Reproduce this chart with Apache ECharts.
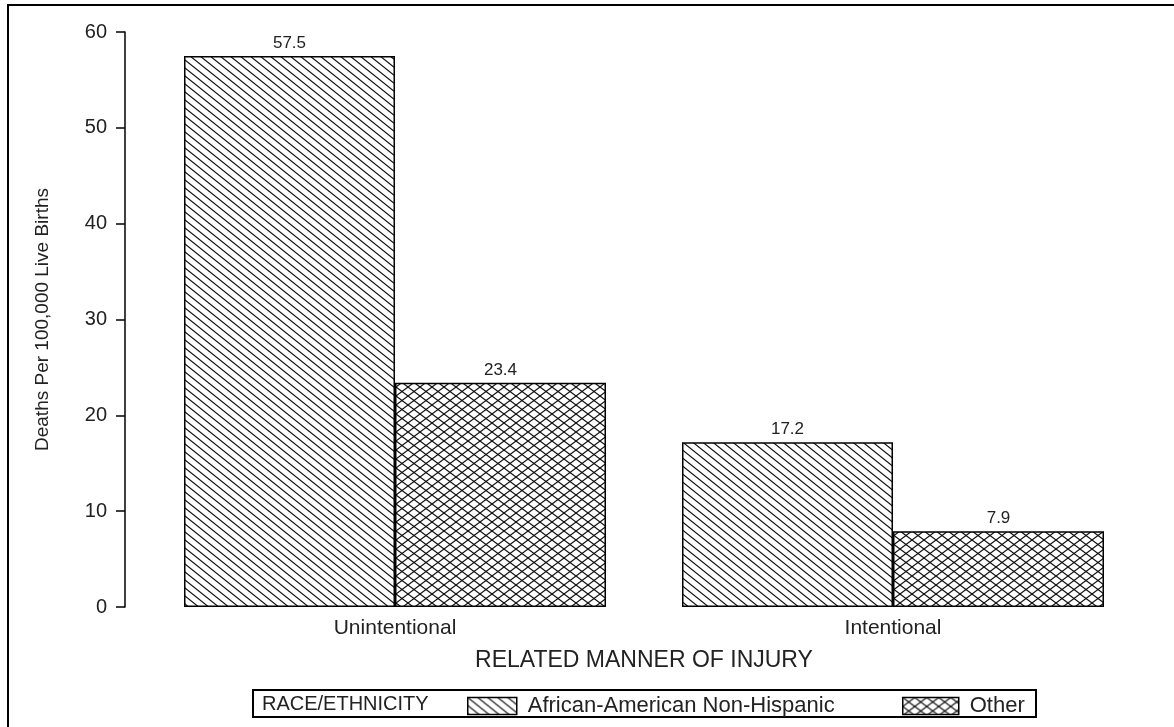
<!DOCTYPE html>
<html>
<head>
<meta charset="utf-8">
<script src="https://cdn.jsdelivr.net/npm/echarts@6/dist/echarts.min.js"></script>
<style>
    html, body { margin: 0; padding: 0; background: #fff; }
    #main { width: 1174px; height: 727px; }
</style>
</head>
<body>
<div id="main"></div>
<script>
    // data
    var categories = ['Unintentional', 'Intentional'];
    var seriesNames = ['African-American Non-Hispanic', 'Other'];
    var africanAmerican = [57.5, 17.2];
    var other = [23.4, 7.9];
    var yTicks = [0, 10, 20, 30, 40, 50, 60];

    var FONT = '"Liberation Sans", Arial, sans-serif';
    var TXT = '#222';

    // hatch tiles drawn on small canvases
    function hatch(w, h, period, slope, cross) {
        var c = document.createElement('canvas');
        c.width = w; c.height = h;
        var ctx = c.getContext('2d');
        ctx.fillStyle = '#fff';
        ctx.fillRect(0, 0, w, h);
        ctx.strokeStyle = '#111';
        ctx.lineWidth = 1.2;
        for (var k = -4; k <= 4; k++) {
            var x0 = k * period;
            // "\" lines
            ctx.beginPath();
            ctx.moveTo(x0 - w, -w * slope);
            ctx.lineTo(x0 + 2 * w, 2 * w * slope);
            ctx.stroke();
            if (cross) {
                // "/" lines
                ctx.beginPath();
                ctx.moveTo(x0 - w, h + w * slope);
                ctx.lineTo(x0 + 2 * w, h - 2 * w * slope);
                ctx.stroke();
            }
        }
        return c;
    }
    var diagTile = hatch(20, 16, 10, 0.8, false);
    var crossTile = hatch(12, 9, 12, 0.75, true);

    var myChart = echarts.init(document.getElementById('main'));

    function barSeries(name, data, tile) {
        return {
            name: name,
            type: 'bar',
            data: data,
            barWidth: 211,
            barGap: '0%',
            itemStyle: {
                color: { image: tile, repeat: 'repeat' },
                borderColor: '#000',
                borderWidth: 1.5
            },
            label: {
                show: true,
                position: 'top',
                distance: 4,
                fontFamily: FONT,
                fontSize: 17,
                color: TXT
            },
            emphasis: { disabled: true }
        };
    }

    function legendFor(name, left, w) {
        return {
            data: [name],
            left: left,
            top: 695,
            padding: 0,
            icon: 'rect',
            itemWidth: w,
            itemHeight: 17,
            selectedMode: false,
            itemStyle: { borderColor: '#000', borderWidth: 1.5 },
            textStyle: { fontFamily: FONT, fontSize: 22, color: TXT, padding: [0, 0, 0, 6] }
        };
    }

    var option = {
        animation: false,
        backgroundColor: '#fff',
        grid: { left: 146, right: 32, top: 32, bottom: 120 },
        legend: [
            legendFor(seriesNames[0], 467, 49),
            legendFor(seriesNames[1], 902, 56)
        ],
        xAxis: {
            type: 'category',
            data: categories,
            axisLine: { show: false },
            axisTick: { show: false },
            axisLabel: { margin: 11, fontFamily: FONT, fontSize: 21, color: TXT },
            name: 'RELATED MANNER OF INJURY',
            nameLocation: 'middle',
            nameGap: 42,
            nameTextStyle: { fontFamily: FONT, fontSize: 23, color: TXT }
        },
        yAxis: {
            type: 'value',
            min: yTicks[0],
            max: yTicks[yTicks.length - 1],
            interval: yTicks[1] - yTicks[0],
            offset: 21,
            axisLine: { show: true, lineStyle: { color: '#000', width: 1.5 } },
            axisTick: { show: true, length: 9, lineStyle: { color: '#000', width: 1.5 } },
            splitLine: { show: false },
            axisLabel: { margin: 18, fontFamily: FONT, fontSize: 20, color: TXT },
            name: 'Deaths Per 100,000 Live Births',
            nameLocation: 'middle',
            nameGap: 73,
            nameRotate: 90,
            nameTextStyle: { fontFamily: FONT, fontSize: 19, color: TXT }
        },
        graphic: [
            {   // outer frame
                type: 'rect',
                shape: { x: 8, y: 5, width: 1300, height: 900 },
                style: { fill: 'none', stroke: '#000', lineWidth: 2 },
                silent: true
            },
            {   // legend frame
                type: 'rect',
                shape: { x: 253, y: 690, width: 783, height: 27 },
                style: { fill: 'none', stroke: '#000', lineWidth: 2 },
                silent: true
            },
            {
                type: 'text',
                left: 262,
                top: 694,
                style: { text: 'RACE/ETHNICITY', fontFamily: FONT, fontSize: 20, fill: TXT }
            }
        ],
        series: [
            barSeries(seriesNames[0], africanAmerican, diagTile),
            barSeries(seriesNames[1], other, crossTile)
        ]
    };
    myChart.setOption(option);
</script>
</body>
</html>
